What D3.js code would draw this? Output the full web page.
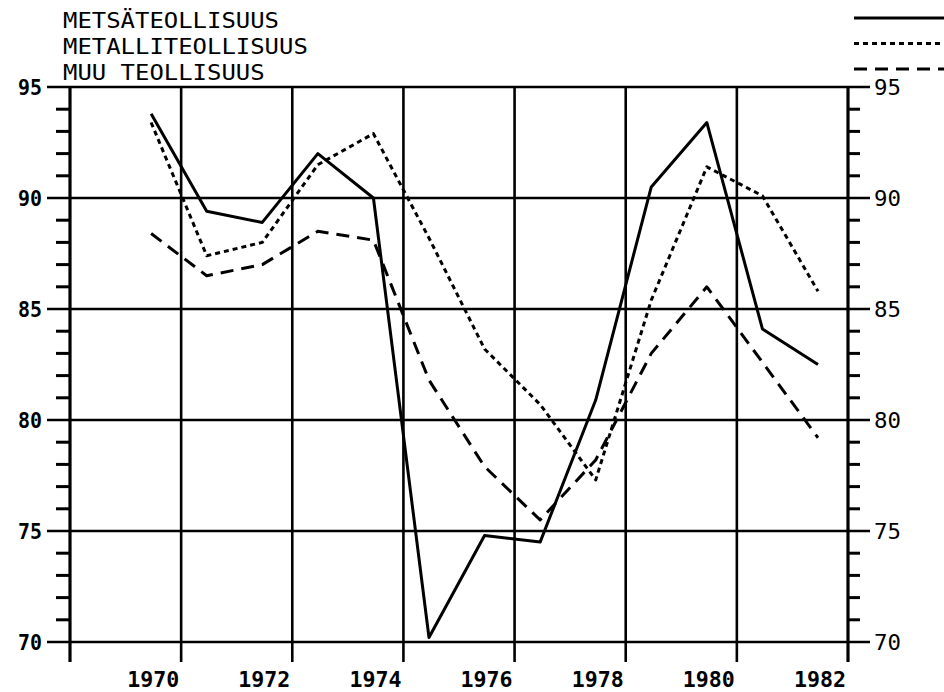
<!DOCTYPE html>
<html>
<head>
<meta charset="utf-8">
<script src="https://cdn.jsdelivr.net/npm/d3@7"></script>
<style>
  body { margin: 0; background: #fff; }
  text { font-family: "DejaVu Sans Mono", monospace; fill: #000; }
</style>
</head>
<body>
<div id="container"></div>
<script>
      //Data (index, points sit mid-year)
      var years   = [1969, 1970, 1971, 1972, 1973, 1974, 1975, 1976, 1977, 1978, 1979, 1980, 1981];
      var metsa   = [93.8, 89.4, 88.9, 92.0, 90.0, 70.2, 74.8, 74.5, 80.9, 90.5, 93.4, 84.1, 82.5];
      var metalli = [93.4, 87.4, 88.0, 91.5, 92.9, 88.2, 83.2, 80.7, 77.3, 85.4, 91.4, 90.1, 85.8];
      var muu     = [88.4, 86.5, 87.0, 88.5, 88.1, 81.8, 77.9, 75.5, 78.2, 83.0, 86.0, 82.6, 79.2];

      var seriesNames = ["METSÄTEOLLISUUS", "METALLITEOLLISUUS", "MUU TEOLLISUUS"];
      var legendLabels = ["METSÄTEOLLISUUS", "METALLITEOLLISUUS", "MUU TEOLLISUUS"];
      var yearTicks = [1970, 1972, 1974, 1976, 1978, 1980, 1982];
      var valueTicks = [70, 75, 80, 85, 90, 95];

      //Width and height
      var w = 944;
      var h = 692;

      var x = d3.scaleLinear().domain([1968, 1982]).range([70, 848]);
      var y = d3.scaleLinear().domain([70, 95]).range([642, 87]);

      var svg = d3.select("#container")
            .append("svg")
            .attr("width", w)
            .attr("height", h);

      var ink = "#000";
      var axisW = 2.6;

      //Minor ticks, every unit, pointing outwards
      var minor = d3.range(70, 95).filter(function(v) { return v % 5 != 0; });
      svg.selectAll("line.minorL").data(minor).enter().append("line")
        .attr("x1", x(1968) - 14).attr("x2", x(1968))
        .attr("y1", function(d) { return y(d); }).attr("y2", function(d) { return y(d); })
        .attr("stroke", ink).attr("stroke-width", 3);
      svg.selectAll("line.minorR").data(minor).enter().append("line")
        .attr("x1", x(1982)).attr("x2", x(1982) + 12)
        .attr("y1", function(d) { return y(d); }).attr("y2", function(d) { return y(d); })
        .attr("stroke", ink).attr("stroke-width", 3);

      //Horizontal grid lines (with major ticks on both sides)
      svg.selectAll("line.hgrid").data(valueTicks).enter().append("line")
        .attr("x1", x(1968) - 23).attr("x2", x(1982) + 22)
        .attr("y1", function(d) { return y(d); }).attr("y2", function(d) { return y(d); })
        .attr("stroke", ink).attr("stroke-width", axisW);

      //Vertical grid lines, left axis included
      svg.selectAll("line.vgrid").data([1968].concat(yearTicks)).enter().append("line")
        .attr("x1", function(d) { return x(d); }).attr("x2", function(d) { return x(d); })
        .attr("y1", y(95)).attr("y2", y(70) + 20)
        .attr("stroke", ink).attr("stroke-width", function(d) { return (d == 1968 || d == 1982) ? 3.2 : axisW; });

      //Left labels
      svg.selectAll("text.yl").data(valueTicks).enter().append("text")
        .attr("x", x(1968) - 28).attr("y", function(d) { return y(d) + 8; })
        .attr("text-anchor", "end")
        .attr("font-size", 22).attr("font-weight", "bold")
        .attr("textLength", 24).attr("lengthAdjust", "spacingAndGlyphs")
        .text(function(d) { return d; });

      //Right labels
      svg.selectAll("text.yr").data(valueTicks).enter().append("text")
        .attr("x", x(1982) + 26).attr("y", function(d) { return y(d) + 8; })
        .attr("font-size", 22)
        .attr("textLength", 27).attr("lengthAdjust", "spacingAndGlyphs")
        .text(function(d) { return d; });

      //Year labels
      svg.selectAll("text.xl").data(yearTicks).enter().append("text")
        .attr("x", function(d) { return x(d) - 2; }).attr("y", 687)
        .attr("text-anchor", "end")
        .attr("font-size", 22).attr("font-weight", "bold")
        .attr("textLength", 52).attr("lengthAdjust", "spacingAndGlyphs")
        .text(function(d) { return d; });

      //Lines
      var dashes = [null, "5,4", "13,8"];
      var allSeries = [metsa, metalli, muu];
      var line = d3.line()
        .x(function(d) { return x(d.year + 0.46); })
        .y(function(d) { return y(d.value); });

      allSeries.forEach(function(vals, i) {
        var pts = years.map(function(yr, j) { return { year: yr, value: vals[j] }; });
        svg.append("path")
          .datum(pts)
          .attr("d", line)
          .attr("fill", "none")
          .attr("stroke", ink)
          .attr("stroke-width", 3)
          .attr("stroke-linejoin", "round")
          .attr("stroke-dasharray", dashes[i]);
      });

      //Legend
      legendLabels.forEach(function(lbl, i) {
        svg.append("text")
          .attr("x", 63).attr("y", 28 + i * 26)
          .attr("font-size", 21)
          .attr("textLength", lbl.length * 14.4).attr("lengthAdjust", "spacingAndGlyphs")
          .text(lbl);
        svg.append("line")
          .attr("x1", 854).attr("x2", w)
          .attr("y1", 18 + i * 25.5).attr("y2", 18 + i * 25.5)
          .attr("stroke", ink).attr("stroke-width", 3)
          .attr("stroke-dasharray", dashes[i]);
      });
</script>
</body>
</html>
